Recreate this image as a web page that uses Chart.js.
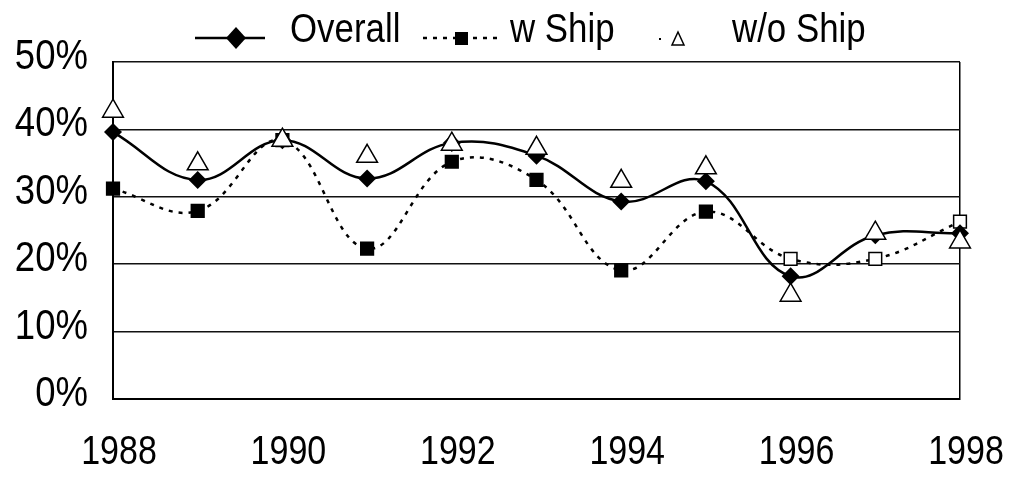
<!DOCTYPE html>
<html>
<head>
<meta charset="utf-8">
<script src="https://cdn.jsdelivr.net/npm/chart.js@4.4.1/dist/chart.umd.min.js"></script>
<style>
  body { margin: 0; background: #fff; }
  #wrap { width: 1012px; height: 477px; }
</style>
</head>
<body>
<div id="wrap"><canvas id="c" width="1012" height="477"></canvas></div>
<script>
// values, in percent
const years = ['1988', '1989', '1990', '1991', '1992', '1993', '1994', '1995', '1996', '1997', '1998'];
const overall = [39.6, 32.5, 38.4, 32.7, 38.0, 36.1, 29.3, 32.3, 18.2, 24.3, 24.6];
const wShip = [31.2, 27.9, 38.4, 22.3, 35.2, 32.5, 19.1, 27.8, 20.8, 20.8, 26.3];
const woShip = [42.7, 34.9, 38.4, 36.0, 37.8, 37.2, 32.3, 34.3, 15.4, 24.6, 23.3];
const seriesNames = ['Overall', 'w Ship', 'w/o Ship'];
const yTicks = [0, 10, 20, 30, 40, 50];

const FONT = "'Liberation Sans', Arial, sans-serif";
const SQUEEZE = 0.85; // the scanned lettering is narrower than Arial

function squeeze(g, text, x, y) {
  g.fillText(text, x, y, g.measureText(text).width * SQUEEZE);
}

// axis labels and legend drawn as narrow text, placed from the chart's own scales
const scanText = {
  id: 'scanText',
  afterDraw(chart) {
    const g = chart.ctx;
    const xs = chart.scales.x, ys = chart.scales.y;
    g.save();
    g.fillStyle = '#000';
    g.textBaseline = 'alphabetic';

    // y tick labels
    g.font = '43px ' + FONT;
    g.textAlign = 'right';
    yTicks.forEach(v => squeeze(g, v + '%', xs.left - 25, ys.getPixelForValue(v) + 7));

    // x tick labels, every other year
    g.font = '40px ' + FONT;
    g.textAlign = 'center';
    years.forEach((yr, i) => {
      if (i % 2 === 0) squeeze(g, yr, xs.getPixelForValue(i) + 6, 464);
    });

    // legend
    g.font = '41px ' + FONT;
    g.textAlign = 'left';
    const textX = [290, 510, 732];
    seriesNames.forEach((n, i) => squeeze(g, n, textX[i], 42));

    g.strokeStyle = '#000';
    // Overall: solid line with diamond
    g.lineWidth = 2.5;
    g.beginPath(); g.moveTo(195, 38); g.lineTo(265, 38); g.stroke();
    g.beginPath(); g.moveTo(236, 27); g.lineTo(246, 38); g.lineTo(236, 49); g.lineTo(226, 38); g.closePath(); g.fill();
    // w Ship: dotted line with square
    g.setLineDash([4, 6]);
    g.beginPath(); g.moveTo(423, 38); g.lineTo(499, 38); g.stroke();
    g.setLineDash([]);
    g.fillRect(455, 32, 13, 13);
    // w/o Ship: triangle only
    g.fillRect(659, 38, 2, 2);
    g.lineWidth = 1.5;
    g.fillStyle = '#fff';
    g.beginPath(); g.moveTo(678, 32); g.lineTo(684, 45); g.lineTo(672, 45); g.closePath(); g.fill(); g.stroke();
    g.restore();
  }
};

const hollowFrom = 8; // w Ship markers turn hollow from 1996 on
const ctx = document.getElementById('c');
const myChart = new Chart(ctx, {
  type: 'line',
  data: {
    labels: years,
    datasets: [{
      label: seriesNames[0],
      data: overall,
      borderColor: '#000',
      backgroundColor: '#000',
      borderWidth: 2.5,
      tension: 0.4,
      pointStyle: 'rectRot',
      pointRadius: 9,
      pointBorderWidth: 0,
      order: 1
    }, {
      label: seriesNames[1],
      data: wShip,
      borderColor: '#000',
      backgroundColor: '#000',
      borderWidth: 2.5,
      borderDash: [4, 6],
      tension: 0.4,
      pointStyle: 'rect',
      pointRadius: 9,
      pointBorderWidth: 1.5,
      pointBackgroundColor: wShip.map((v, i) => i >= hollowFrom ? '#fff' : '#000'),
      order: 2
    }, {
      label: seriesNames[2],
      data: woShip,
      showLine: false,
      borderColor: '#000',
      backgroundColor: '#fff',
      pointStyle: 'triangle',
      pointRadius: 12,
      pointBorderWidth: 1.5,
      order: 0
    }]
  },
  options: {
    responsive: false,
    animation: false,
    layout: { padding: { left: 113, right: 52, top: 62, bottom: 78 } },
    plugins: {
      tooltip: { enabled: false },
      legend: { display: false }
    },
    scales: {
      x: {
        type: 'category',
        grid: {
          drawTicks: false,
          lineWidth: 1.5,
          color: c => c.index === years.length - 1 ? '#000' : 'rgba(0,0,0,0)'
        },
        border: { color: '#000', width: 2 },
        ticks: { display: false, autoSkip: false }
      },
      y: {
        min: yTicks[0],
        max: yTicks[yTicks.length - 1],
        afterBuildTicks: s => { s.ticks = yTicks.map(v => ({ value: v })); },
        grid: { drawTicks: false, lineWidth: 1.5, color: '#111' },
        border: { color: '#000', width: 2 },
        ticks: { display: false }
      }
    }
  },
  plugins: [scanText]
});
</script>
</body>
</html>
